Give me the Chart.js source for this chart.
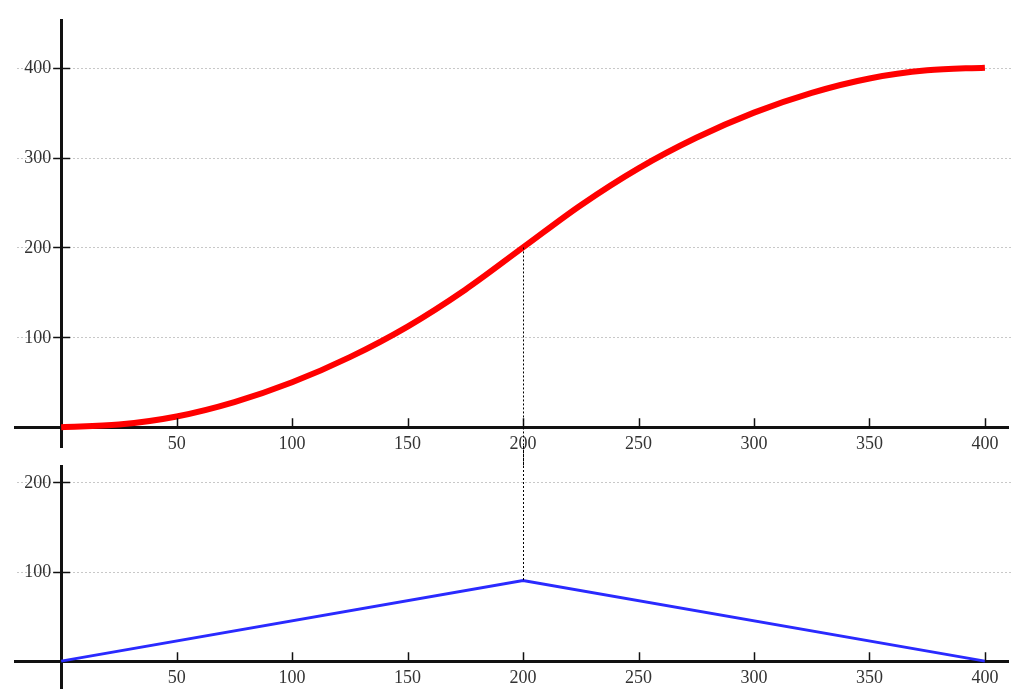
<!DOCTYPE html>
<html>
<head>
<meta charset="utf-8">
<script src="https://cdn.jsdelivr.net/npm/chart.js@4.4.1/dist/chart.umd.min.js"></script>
<style>
  html, body { margin: 0; padding: 0; background: #fff; overflow: hidden; }
  .panel { position: absolute; left: 0; width: 1035px; }
  #top { top: 0; height: 467px; }
  #bottom { top: 446px; height: 262px; }
</style>
</head>
<body>
<div class="panel" id="top"><canvas id="curveChart"></canvas></div>
<div class="panel" id="bottom"><canvas id="slopeChart"></canvas></div>
<script>
// ---- data
const curveX = [0, 25, 50, 75, 100, 125, 150, 175, 200, 225, 250, 275, 300, 325, 350, 375, 400];
const curveY = [0, 3, 12, 28, 50, 78, 112, 153, 200, 247, 288, 322, 350, 372, 388, 397, 400];

const slopeX = [0, 200, 400];
const slopeY = [0, 90, 0];

const xTicks = [50, 100, 150, 200, 250, 300, 350, 400];
const topYTicks = [100, 200, 300, 400];
const bottomYTicks = [100, 200];

const dropX = 200; // dotted drop line

function pts(xs, ys) {
  return xs.map((x, i) => ({ x: x, y: ys[i] }));
}
function valueAt(xs, ys, x) {
  return ys[xs.indexOf(x)];
}

const tickFont = { family: "'Liberation Serif', 'DejaVu Serif', serif", size: 18 };

// dotted horizontal grid lines
function dashGrid() {
  return {
    id: "dashGrid",
    beforeDatasetsDraw(chart) {
      const ctx = chart.ctx;
      const ys = chart.scales.y;
      const a = chart.chartArea;
      ctx.save();
      ctx.strokeStyle = "#c8c8c8";
      ctx.lineWidth = 1;
      ctx.setLineDash([2, 2]);
      ctx.beginPath();
      ys.ticks.forEach((t) => {
        const py = Math.round(ys.getPixelForValue(t.value)) + 0.5;
        ctx.moveTo(a.left + 2, py);
        ctx.lineTo(a.right + 4, py);
      });
      ctx.stroke();
      ctx.restore();
    },
  };
}

// tick marks on both axes, y labels, dotted drop line
function axisPlugin(dropFrom, dropTo) {
  return {
    id: "axisMarks",
    afterDraw(chart) {
      const ctx = chart.ctx;
      const xs = chart.scales.x;
      const ys = chart.scales.y;
      const x0 = xs.getPixelForValue(0);
      const y0 = ys.getPixelForValue(0);
      ctx.save();
      ctx.strokeStyle = "#111";
      ctx.lineWidth = 1.5;
      ctx.beginPath();
      xs.ticks.forEach((t) => {
        const px = Math.round(xs.getPixelForValue(t.value)) + 0.5;
        ctx.moveTo(px, y0 - 9);
        ctx.lineTo(px, y0);
      });
      ys.ticks.forEach((t) => {
        const py = Math.round(ys.getPixelForValue(t.value)) + 0.5;
        ctx.moveTo(x0 - 8, py);
        ctx.lineTo(x0 + 9, py);
      });
      ctx.stroke();

      ctx.fillStyle = "#333";
      ctx.font = tickFont.size + "px " + tickFont.family;
      ctx.textAlign = "right";
      ctx.textBaseline = "middle";
      ys.ticks.forEach((t) => {
        ctx.fillText(String(t.value), x0 - 10, ys.getPixelForValue(t.value) + 1);
      });

      // dotted drop line
      const dx = Math.round(xs.getPixelForValue(dropX)) + 0.5;
      ctx.strokeStyle = "#000";
      ctx.lineWidth = 1;
      ctx.setLineDash([2, 2]);
      ctx.beginPath();
      ctx.moveTo(dx, dropFrom(chart));
      ctx.lineTo(dx, dropTo(chart));
      ctx.stroke();
      ctx.restore();
    },
  };
}

function makeOptions(yMin, yMax, yTicks) {
  return {
    responsive: true,
    maintainAspectRatio: false,
    animation: false,
    layout: { padding: { top: 20, bottom: 20, left: 15, right: 27 } },
    plugins: { legend: { display: false }, tooltip: { enabled: false } },
    elements: { point: { radius: 0 } },
    scales: {
      x: {
        type: "linear",
        min: -20,
        max: 410,
        position: { y: 0 },
        afterBuildTicks: (s) => { s.ticks = xTicks.map((v) => ({ value: v })); },
        grid: { display: false, drawTicks: false },
        border: { display: true, color: "#111", width: 3 },
        ticks: { font: tickFont, color: "#333", padding: 6, maxRotation: 0 },
      },
      y: {
        type: "linear",
        min: yMin,
        max: yMax,
        position: { x: 0 },
        afterBuildTicks: (s) => { s.ticks = yTicks.map((v) => ({ value: v })); },
        grid: { display: false, drawTicks: false },
        border: { display: true, color: "#111", width: 3 },
        ticks: { display: false },
      },
    },
  };
}

var curveChart = new Chart(document.getElementById("curveChart"), {
  type: "line",
  data: {
    datasets: [{
      data: pts(curveX, curveY),
      borderColor: "#ff0000",
      borderWidth: 6,
      fill: false,
      cubicInterpolationMode: "monotone",
    }],
  },
  options: makeOptions(-22, 453, topYTicks),
  plugins: [
    dashGrid(),
    axisPlugin(
      (c) => c.scales.y.getPixelForValue(valueAt(curveX, curveY, dropX)),
      (c) => c.height
    ),
  ],
});

var slopeChart = new Chart(document.getElementById("slopeChart"), {
  type: "line",
  data: {
    datasets: [{
      data: pts(slopeX, slopeY),
      borderColor: "#2a2aff",
      borderWidth: 3,
      fill: false,
      tension: 0,
    }],
  },
  options: makeOptions(-30, 218, bottomYTicks),
  plugins: [
    dashGrid(),
    axisPlugin(
      (c) => 0,
      (c) => c.scales.y.getPixelForValue(valueAt(slopeX, slopeY, dropX))
    ),
  ],
});
</script>
</body>
</html>
